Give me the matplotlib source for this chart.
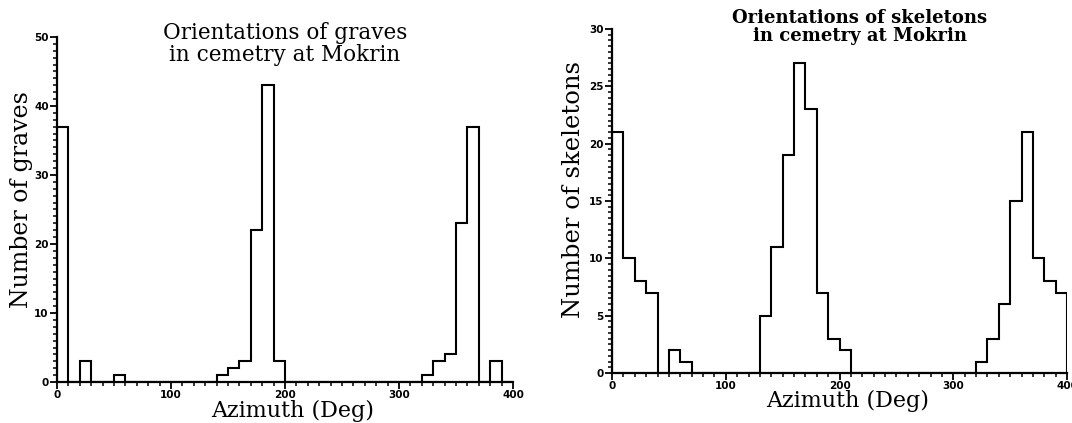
import numpy as np
import matplotlib
matplotlib.use('Agg')
import matplotlib.pyplot as plt
from matplotlib.ticker import MultipleLocator

# bins of 10 degrees, 0..400
bin_edges = list(range(0, 410, 10))

graves = [37, 0, 3, 0, 0, 1, 0, 0, 0, 0, 0, 0, 0, 0,
          1, 2, 3, 22, 43, 3,
          0, 0, 0, 0, 0, 0, 0, 0, 0, 0, 0, 0,
          1, 3, 4, 23, 37, 0, 3, 0]

skeletons = [21, 10, 8, 7, 0, 2, 1,
             0, 0, 0, 0, 0, 0,
             5, 11, 19, 27, 23, 7, 3, 2,
             0, 0, 0, 0, 0, 0, 0, 0, 0, 0, 0,
             1, 3, 6, 15, 21, 10, 8, 7]

W, H = 1072, 423
fig = plt.figure(figsize=(W / 100, H / 100), dpi=100)

SERIF = 'DejaVu Serif'


def px(x, y):
    return x / W, 1 - y / H


def setup(ax, counts, ymax, ymajor, yminor):
    ax.stairs(counts, bin_edges, baseline=0, color='black', lw=1.5)
    ax.set_xlim(0, 400)
    ax.set_ylim(0, ymax)
    for s in ['top', 'right']:
        ax.spines[s].set_visible(False)
    for s in ['left', 'bottom']:
        ax.spines[s].set_linewidth(1.6)
    ax.xaxis.set_major_locator(MultipleLocator(100))
    ax.xaxis.set_minor_locator(MultipleLocator(10))
    ax.yaxis.set_major_locator(MultipleLocator(ymajor))
    ax.yaxis.set_minor_locator(MultipleLocator(yminor))
    ax.tick_params(which='major', length=5, width=1.3, pad=1,
                   labelsize=7.5)
    ax.tick_params(which='minor', length=3, width=1.1)
    for lab in ax.get_xticklabels() + ax.get_yticklabels():
        lab.set_fontweight('bold')
    ax.patch.set_alpha(0)


ax1 = fig.add_axes([57 / W, 41 / H, 456 / W, 345 / H])
setup(ax1, graves, 50, 10, 1)

ax2 = fig.add_axes([612 / W, 50 / H, 455 / W, 344 / H])
setup(ax2, skeletons, 30, 5, 0.5)

# titles and labels
fig.text(*px(285, 44), 'Orientations of graves\nin cemetry at Mokrin',
         ha='center', va='center', fontsize=15.5, family=SERIF,
         linespacing=1.0)
fig.text(*px(860, 27), 'Orientations of skeletons\nin cemetry at Mokrin',
         ha='center', va='center', fontsize=13, family=SERIF,
         fontweight='bold', linespacing=0.95)

fig.text(*px(293, 411), 'Azimuth (Deg)', ha='center', va='center',
         fontsize=16, family=SERIF)
fig.text(*px(848, 401), 'Azimuth (Deg)', ha='center', va='center',
         fontsize=16, family=SERIF)

fig.text(*px(22, 200), 'Number of graves', ha='center', va='center',
         rotation=90, fontsize=17, family=SERIF)
fig.text(*px(573, 190), 'Number of skeletons', ha='center', va='center',
         rotation=90, fontsize=17.5, family=SERIF)

plt.savefig('out.png', dpi=100)
plt.close()
